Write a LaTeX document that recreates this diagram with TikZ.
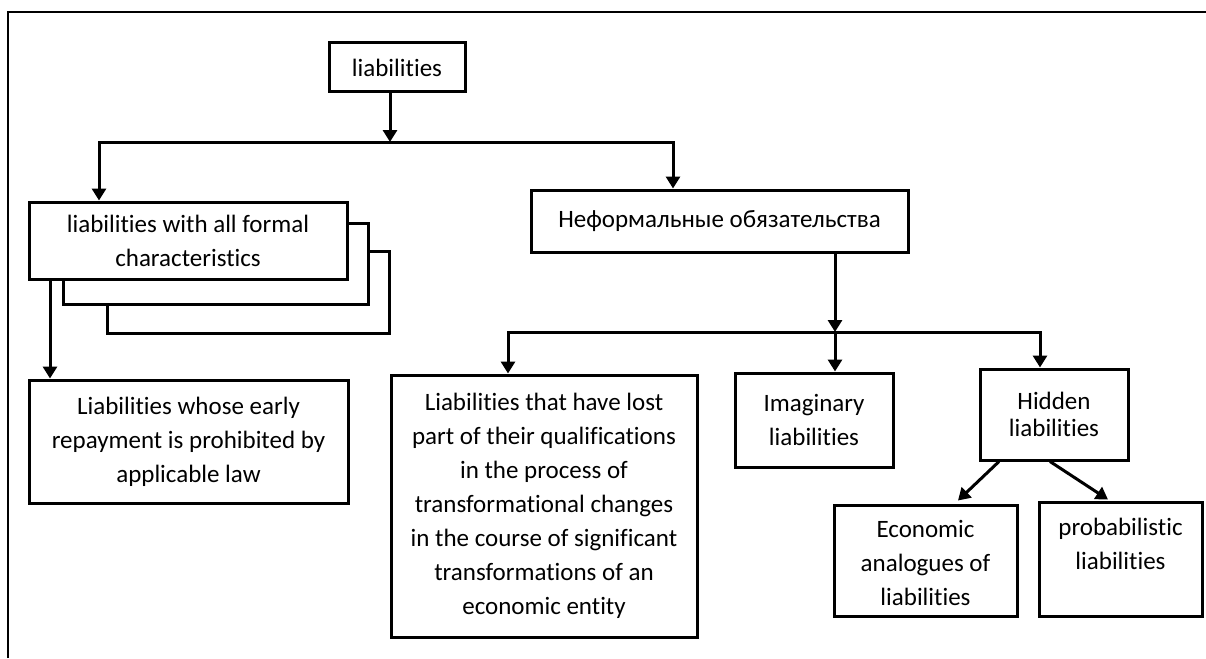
\documentclass[tikz,border=0pt]{standalone}
\usepackage{fontspec}
\setmainfont{Carlito}[Ligatures=NoCommon]
\usetikzlibrary{arrows.meta}
\begin{document}
\begin{tikzpicture}[x=1pt,y=-1pt,
  box/.style={draw=black, line width=3pt, fill=white, inner sep=0pt, align=center,
    font=\fontsize{25}{34}\selectfont},
  conn/.style={line width=3pt, line join=miter},
  arr/.style={conn, -{Triangle[width=14pt,length=12pt]}}]
\useasboundingbox (0,0) rectangle (1206,658);
\draw[line width=2.6pt] (8,658) -- (8,12) -- (1206,12);

% shadow boxes
\draw[line width=3pt, fill=white] (107,251) rectangle (389,333);
\draw[line width=3pt, fill=white] (63,223) rectangle (368,304);

\node[box, minimum width=136pt, minimum height=49pt] (root) at (397,67.5) {liabilities};
\node[box, minimum width=318pt, minimum height=77pt] (formal) at (188,240.5) {liabilities with all formal\\characteristics};
\node[box, minimum width=319pt, minimum height=123pt] (whose) at (188.5,441.5) {Liabilities whose early\\repayment is prohibited by\\applicable law};
\node[box, minimum width=377pt, minimum height=62pt] (inf) at (719.5,221) {Неформальные обязательства};
\node[box, minimum width=306pt, minimum height=262pt] (big) at (544,506) {Liabilities that have lost\\part of their qualifications\\in the process of\\transformational changes\\in the course of significant\\transformations of an\\economic entity};
\node[box, minimum width=158pt, minimum height=94pt] (imag) at (814,420) {Imaginary\\liabilities};
\node[box, minimum width=148pt, minimum height=91pt, font=\fontsize{25}{27}\selectfont] (hidden) at (1054,414.5) {Hidden\\liabilities};
\node[box, minimum width=183pt, minimum height=111pt] (econ) at (925.5,560.5) {\rule{0pt}{22pt}Economic\\analogues of\\liabilities};
\node[box, minimum width=163pt, minimum height=114pt] (prob) at (1120.5,559) {\rule{0pt}{22pt}probabilistic\\liabilities\\\vphantom{liabilities}};

% junction coordinates
\coordinate (j1) at (390,142);
\coordinate (jL) at (99,142);
\coordinate (jR) at (673,142);
\coordinate (x2) at (50,0);
\coordinate (j2) at (835,332);
\coordinate (j2L) at (508,332);
\coordinate (j2R) at (1040,332);
\coordinate (h1) at (999,0);
\coordinate (h2) at (1050,0);
\coordinate (e1) at (958,0);
\coordinate (p1) at (1108,0);

\draw[arr] (j1 |- root.south) -- (j1);
\draw[arr] (j1) -- (jL) -- (jL |- formal.north);
\draw[arr] (j1) -- (jR) -- (jR |- inf.north);
\draw[arr] (formal.south -| x2) -- (whose.north -| x2);

\draw[arr] (j2 |- inf.south) -- (j2);
\draw[arr] (j2) -- (j2L) -- (j2L |- big.north);
\draw[arr] (j2) -- (j2 |- imag.north);
\draw[arr] (j2) -- (j2R) -- (j2R |- hidden.north);

\draw[arr] (hidden.south -| h1) -- ([yshift=3pt]econ.north -| e1);
\draw[arr] (hidden.south -| h2) -- ([yshift=1pt]prob.north -| p1);
\end{tikzpicture}
\end{document}
